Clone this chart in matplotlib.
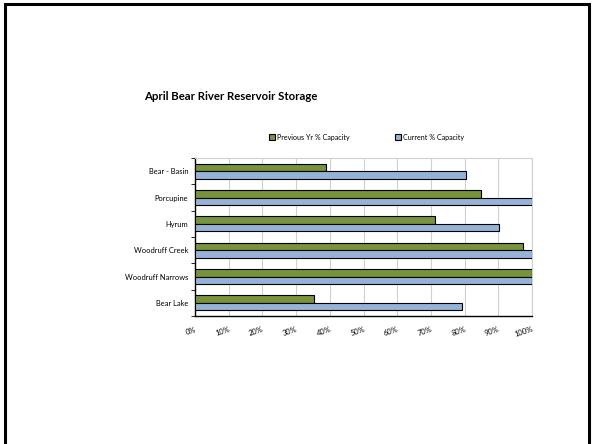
import matplotlib.pyplot as plt
import numpy as np
from matplotlib.patches import Rectangle

# reservoirs, top to bottom as on the chart
reservoirs = ["Bear - Basin", "Porcupine", "Hyrum", "Woodruff Creek", "Woodruff Narrows", "Bear Lake"]
prev_pct = [39.0, 85.0, 71.3, 97.4, 100.0, 35.3]
curr_pct = [80.5, 100.0, 90.1, 100.0, 100.0, 79.2]
xticks = [0, 10, 20, 30, 40, 50, 60, 70, 80, 90, 100]

plt.rcParams['font.family'] = ['Lato', 'DejaVu Sans']

fig = plt.figure(figsize=(5.94, 4.44), dpi=100)

# slide frame
fig.patches.append(Rectangle((5 / 594, -0.05), 584 / 594, 1 - 4.5 / 444 + 0.05,
                             transform=fig.transFigure, fill=False,
                             edgecolor='black', linewidth=2.2))

ax = fig.add_axes([195 / 594, 1 - 316 / 444, 337 / 594, 158 / 444])

n = len(reservoirs)
y = np.arange(n)[::-1]
h = 0.29
ax.barh(y + h / 2, prev_pct, height=h, color='#77933C', edgecolor='black',
        linewidth=0.8, label='Previous Yr % Capacity', zorder=3)
ax.barh(y - h / 2, curr_pct, height=h, color='#95B3D7', edgecolor='black',
        linewidth=0.8, label='Current % Capacity', zorder=3)

ax.set_xlim(0, 100)
ax.set_ylim(-0.5, n - 0.5)
ax.set_xticks(xticks)
ax.set_xticklabels([f"{t}%" for t in xticks], rotation=18, fontsize=5.4,
                   ha='right', rotation_mode='anchor')
ax.set_yticks(y)
ax.set_yticklabels(reservoirs, fontsize=5.4)
ax.set_yticks(np.arange(n + 1) - 0.5, minor=True)
ax.tick_params(axis='y', which='major', length=0, pad=5)
ax.tick_params(axis='y', which='minor', length=3, width=0.6)
ax.tick_params(axis='x', length=0, pad=7)
ax.grid(axis='x', color='#d0d0d0', linewidth=0.8, zorder=0)

for s in ['top', 'right']:
    ax.spines[s].set_color('#d0d0d0')
for s in ['left', 'bottom']:
    ax.spines[s].set_linewidth(1.0)

fig.text(144 / 594, 1 - 97 / 444, "April Bear River Reservoir Storage",
         fontsize=8.2, fontweight='bold', va='center', ha='left')

fig.legend(loc='center', bbox_to_anchor=(0.617, 1 - 137 / 444), ncol=2,
           fontsize=5.1, frameon=False, handlelength=0.8, handleheight=0.8,
           columnspacing=6.5, handletextpad=0.3)

fig.savefig('out.png', dpi=100)
